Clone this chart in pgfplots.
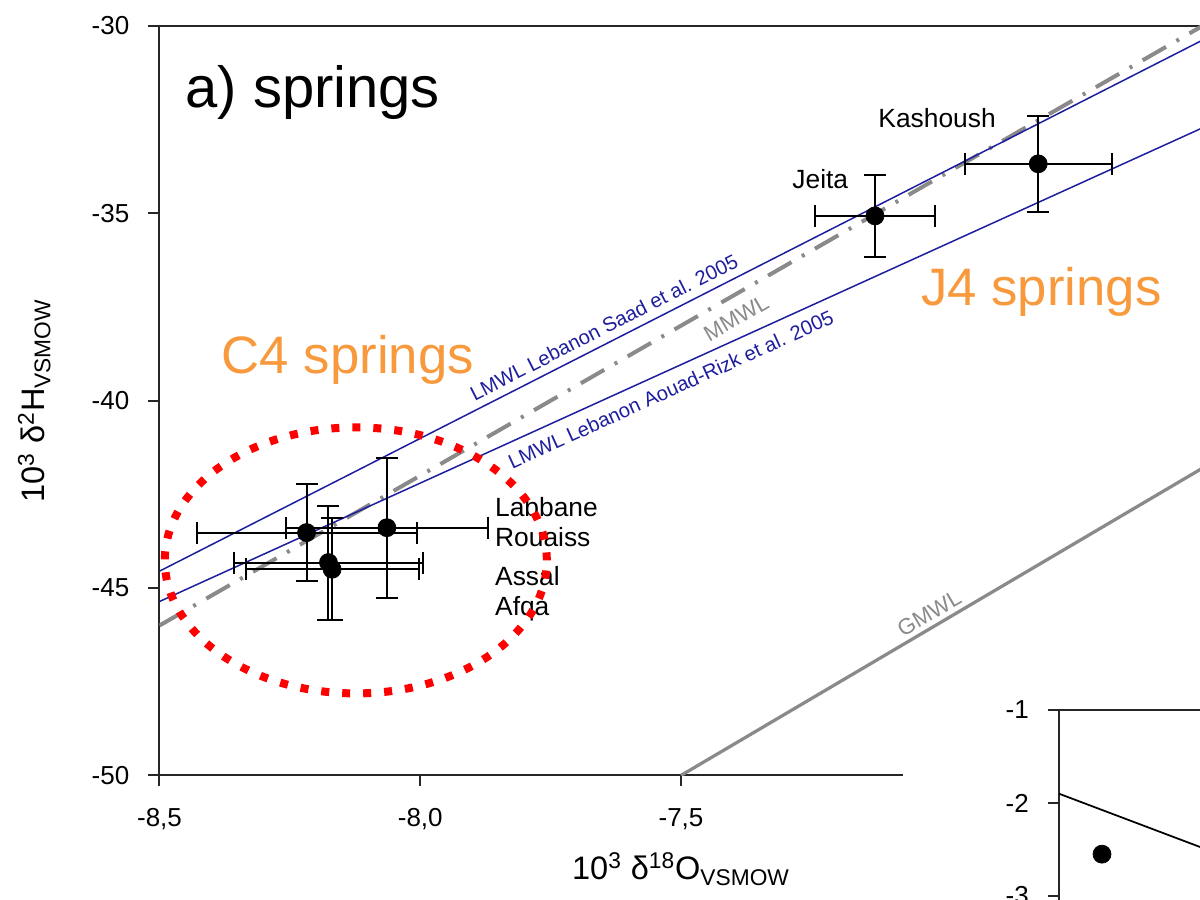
\documentclass[border=0pt]{standalone}
\usepackage{fontspec}
\setmainfont{Liberation Sans}
\usepackage{pgfplots}
\usepackage{pgfplotstable}
\pgfplotsset{compat=1.18}
\definecolor{lmwlblue}{HTML}{1E1E9E}
\definecolor{springorange}{HTML}{F7993C}
\definecolor{wlgray}{HTML}{8A8A8A}
\newcommand{\tfont}{\fontsize{14.8}{17}\selectfont}
\newcommand{\lfont}{\fontsize{11.5}{13}\selectfont}
\newcommand{\gfont}{\fontsize{12.7}{15}\selectfont}
\newcommand{\nfont}{\fontsize{15}{18}\selectfont}

% spring means and their spreads
\pgfplotstableread{
x      y      ex    ey
-6.815 -33.68 0.141 1.28
-7.128 -35.07 0.115 1.09
-8.218 -43.52 0.211 1.29
-8.064 -43.39 0.194 1.87
-8.176 -44.32 0.182 1.52
-8.169 -44.50 0.166 1.36
}\springs

\begin{document}
\begin{tikzpicture}
\useasboundingbox (-31.9mm,-24.72mm) rectangle (208.1mm,155.08mm);
\clip (-31.9mm,-24.72mm) rectangle (208.1mm,155.08mm);
\begin{axis}[at={(0,0)}, anchor=south west, scale only axis,
  width=208.6mm, height=149.9mm,
  xmin=-8.5, xmax=-6.5, ymin=-50, ymax=-30,
  xtick={-8.5,-8,-7.5,-7,-6.5}, xticklabels={{-8,5},{-8,0},{-7,5},{-7,0},{-6,5}},
  ytick={-50,-45,-40,-35,-30}, yticklabels={-50,-45,-40,-35,-30},
  tick align=outside, xtick pos=bottom, ytick pos=left, major tick length=2.2mm,
  axis line style={line width=0.4mm, black!85}, tick style={line width=0.4mm, black!85},
  tick label style={font=\tfont},
  xticklabel style={yshift=-3.2mm}, yticklabel style={xshift=-2.6mm},
  xlabel={10\textsuperscript{3} δ\textsuperscript{18}O\textsubscript{VSMOW}},
  ylabel={10\textsuperscript{3} δ\textsuperscript{2}H\textsubscript{VSMOW}},
  every axis x label/.style={at={(axis description cs:0.5,-0.1394)}, anchor=base, font=\fontsize{18.5}{22}\selectfont},
  every axis y label/.style={at={(axis description cs:-0.1098,0.5)}, rotate=90, anchor=base, font=\fontsize{18.5}{22}\selectfont},
]
% water lines
\addplot[wlgray, line width=0.65mm] coordinates {(-7.5,-50) (-6.5,-41.8)}
  node[pos=0.489, sloped, above, inner sep=0.8mm, font=\gfont, text=wlgray] {GMWL};
\addplot[wlgray, line width=0.8mm, dash pattern=on 5.4mm off 2.4mm on 0.6mm off 2.4mm] coordinates {(-8.5,-46) (-6.5,-30)}
  node[pos=0.543, sloped, below, inner sep=2.2mm, font=\gfont, text=wlgray] {MMWL};
\addplot[lmwlblue, line width=0.3mm] coordinates {(-8.5,-44.55) (-6.5,-30.38)}
  node[pos=0.433, sloped, above, inner sep=1.5mm, font=\lfont, text=lmwlblue] {LMWL Lebanon Saad et al. 2005};
\addplot[lmwlblue, line width=0.3mm] coordinates {(-8.5,-45.36) (-6.5,-32.72)}
  node[pos=0.483, sloped, below, inner sep=2mm, font=\lfont, text=lmwlblue] {LMWL Lebanon Aouad-Rizk et al. 2005};
% springs
\addplot[black, only marks, mark=*, mark size=1.8mm,
  error bars/.cd, x dir=both, x explicit, y dir=both, y explicit,
  error bar style={line width=0.4mm, black},
  error mark options={rotate=90, line width=0.4mm, mark size=2.2mm, black}]
  table[x=x, y=y, x error=ex, y error=ey] {\springs};
% texts
\node[anchor=base west, inner sep=0, font=\fontsize{33}{37}\selectfont] at (axis cs:-8.451,-32.19) {a) springs};
\node[anchor=base west, inner sep=0, font=\fontsize{30}{34}\selectfont, text=springorange] at (axis cs:-8.381,-39.27) {C4 springs};
\node[anchor=base west, inner sep=0, font=\fontsize{30}{34}\selectfont, text=springorange] at (axis cs:-7.040,-37.47) {J4 springs};
\node[anchor=base west, inner sep=0, font=\nfont] at (axis cs:-7.122,-32.72) {Kashoush};
\node[anchor=base west, inner sep=0, font=\nfont] at (axis cs:-7.287,-34.35) {Jeita};
\node[anchor=base west, inner sep=0, font=\nfont] at (axis cs:-7.857,-43.08) {Labbane};
\node[anchor=base west, inner sep=0, font=\nfont] at (axis cs:-7.857,-43.88) {Rouaiss};
\node[anchor=base west, inner sep=0, font=\nfont] at (axis cs:-7.857,-44.92) {Assal};
\node[anchor=base west, inner sep=0, font=\nfont] at (axis cs:-7.857,-45.72) {Afqa};
\end{axis}
% C4 group outline
\draw[red, line width=1.6mm, dash pattern=on 1.6mm off 2.6mm] (39.26mm,43.0mm) ellipse [x radius=38.2mm, y radius=26.6mm];
% inset panel
\fill[white] (148.7mm,17.08mm) rectangle (215mm,-30mm);
\begin{axis}[at={(179.9mm,13.08mm)}, anchor=north west, scale only axis,
  width=100mm, height=74.4mm, xmin=0, xmax=5, ymin=-5, ymax=-1,
  xtick=\empty, ytick={-1,-2,-3,-4}, yticklabels={-1,-2,-3,-4},
  tick align=outside, ytick pos=left, major tick length=2.2mm,
  axis line style={line width=0.4mm, black!85}, tick style={line width=0.4mm, black!85},
  tick label style={font=\tfont}, yticklabel style={xshift=-2.6mm}]
\addplot[black, line width=0.35mm] coordinates {(0,-1.90) (1.6,-2.55)};
\addplot[black, only marks, mark=*, mark size=1.8mm] coordinates {(0.43,-2.55)};
\end{axis}
\end{tikzpicture}
\end{document}
